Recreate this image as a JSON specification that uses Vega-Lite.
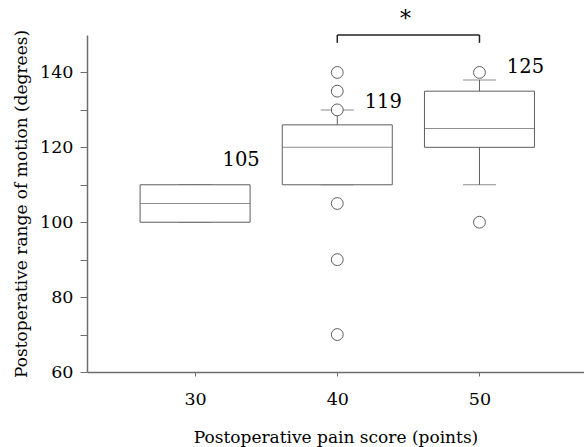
{
  "$schema": "https://vega.github.io/schema/vega-lite/v6.json",
  "width": 497,
  "height": 337,
  "autosize": {"type": "none"},
  "padding": {"left": 87, "top": 35, "right": 0, "bottom": 75},
  "background": "white",
  "config": {
    "view": {"stroke": null},
    "font": "DejaVu Serif",
    "axis": {
      "labelFont": "DejaVu Serif",
      "titleFont": "DejaVu Serif",
      "labelFontSize": 17.5,
      "titleFontSize": 17,
      "titleFontWeight": "normal",
      "labelColor": "black",
      "titleColor": "black",
      "domainColor": "#6e6e6e",
      "tickColor": "#6e6e6e",
      "domainWidth": 1.5,
      "tickWidth": 1,
      "grid": false
    }
  },
  "datasets": {
    "boxes": [
      {"score": 30, "q1": 100, "median": 105, "q3": 110, "lo": 100, "hi": 110, "label": "105", "labelY": 116.5},
      {"score": 40, "q1": 110, "median": 120, "q3": 126, "lo": 110, "hi": 130, "label": "119", "labelY": 132},
      {"score": 50, "q1": 120, "median": 125, "q3": 135, "lo": 110, "hi": 138, "label": "125", "labelY": 141.4}
    ],
    "outliers": [
      {"score": 40, "value": 140},
      {"score": 40, "value": 135},
      {"score": 40, "value": 130},
      {"score": 40, "value": 105},
      {"score": 40, "value": 90},
      {"score": 40, "value": 70},
      {"score": 50, "value": 140},
      {"score": 50, "value": 100}
    ],
    "bracket": [
      {"from": 40, "to": 50, "top": 150, "foot": 147.9, "mark": "*", "starY": 154.4}
    ]
  },
  "layer": [
    {
      "data": {"name": "boxes"},
      "mark": {"type": "rule", "color": "#5e5e5e", "strokeWidth": 1},
      "encoding": {
        "x": {"field": "score", "type": "quantitative", "scale": {"domain": [22.75, 57.0], "nice": false, "zero": false},
          "axis": {"values": [30, 40, 50], "tickSize": 4, "labelPadding": 14, "titlePadding": 22, "title": "Postoperative pain score (points)"}},
        "y": {"field": "lo", "type": "quantitative", "scale": {"domain": [60, 150], "nice": false, "zero": false},
          "axis": {"values": [60, 70, 80, 90, 100, 110, 120, 130, 140], "labelExpr": "datum.value % 20 == 0 ? datum.label : ''", "tickSize": 7, "labelPadding": 7, "titlePadding": 9, "title": "Postoperative range of motion (degrees)"}},
        "y2": {"field": "hi"}
      }
    },
    {
      "data": {"name": "boxes"},
      "mark": {"type": "tick", "orient": "horizontal", "size": 33, "thickness": 1, "color": "#5e5e5e"},
      "encoding": {
        "x": {"field": "score", "type": "quantitative"},
        "y": {"field": "lo", "type": "quantitative"}
      }
    },
    {
      "data": {"name": "boxes"},
      "mark": {"type": "tick", "orient": "horizontal", "size": 33, "thickness": 1, "color": "#5e5e5e"},
      "encoding": {
        "x": {"field": "score", "type": "quantitative"},
        "y": {"field": "hi", "type": "quantitative"}
      }
    },
    {
      "data": {"name": "boxes"},
      "mark": {"type": "bar", "size": 110, "fill": "white", "stroke": "#5e5e5e", "strokeWidth": 1},
      "encoding": {
        "x": {"field": "score", "type": "quantitative"},
        "y": {"field": "q1", "type": "quantitative"},
        "y2": {"field": "q3"}
      }
    },
    {
      "data": {"name": "boxes"},
      "mark": {"type": "tick", "orient": "horizontal", "size": 110, "thickness": 1, "color": "#5e5e5e"},
      "encoding": {
        "x": {"field": "score", "type": "quantitative"},
        "y": {"field": "median", "type": "quantitative"}
      }
    },
    {
      "data": {"name": "outliers"},
      "mark": {"type": "point", "shape": "circle", "size": 140, "filled": false, "fill": "white", "fillOpacity": 1, "stroke": "#5e5e5e", "strokeWidth": 1},
      "encoding": {
        "x": {"field": "score", "type": "quantitative"},
        "y": {"field": "value", "type": "quantitative"}
      }
    },
    {
      "data": {"name": "boxes"},
      "mark": {"type": "text", "dx": 46, "fontSize": 19.5, "font": "DejaVu Serif", "color": "black", "align": "center", "baseline": "middle"},
      "encoding": {
        "x": {"field": "score", "type": "quantitative"},
        "y": {"field": "labelY", "type": "quantitative"},
        "text": {"field": "label"}
      }
    },
    {
      "data": {"name": "bracket"},
      "mark": {"type": "rule", "color": "#222222", "strokeWidth": 1.5},
      "encoding": {
        "x": {"field": "from", "type": "quantitative"},
        "x2": {"field": "to"},
        "y": {"field": "top", "type": "quantitative"}
      }
    },
    {
      "data": {"name": "bracket"},
      "mark": {"type": "rule", "color": "#222222", "strokeWidth": 1.5},
      "encoding": {
        "x": {"field": "from", "type": "quantitative"},
        "y": {"field": "top", "type": "quantitative"},
        "y2": {"field": "foot"}
      }
    },
    {
      "data": {"name": "bracket"},
      "mark": {"type": "rule", "color": "#222222", "strokeWidth": 1.5},
      "encoding": {
        "x": {"field": "to", "type": "quantitative"},
        "y": {"field": "top", "type": "quantitative"},
        "y2": {"field": "foot"}
      }
    },
    {
      "data": {"name": "bracket"},
      "mark": {"type": "text", "fontSize": 22, "font": "DejaVu Serif", "color": "black", "align": "center", "baseline": "middle"},
      "encoding": {
        "x": {"datum": 44.8, "type": "quantitative"},
        "y": {"field": "starY", "type": "quantitative"},
        "text": {"field": "mark"}
      }
    }
  ]
}
